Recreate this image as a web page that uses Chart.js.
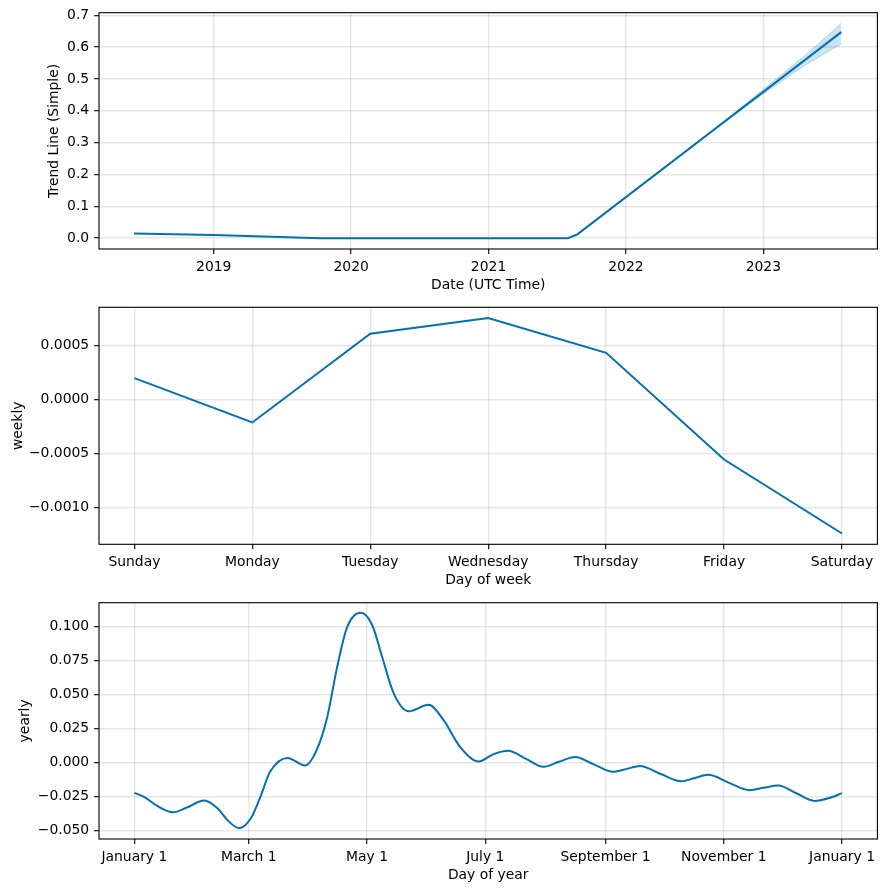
<!DOCTYPE html>
<html>
<head>
<meta charset="utf-8">
<script src="https://cdn.jsdelivr.net/npm/chart.js@4.4.0/dist/chart.umd.min.js"></script>
<style>
  html, body { margin: 0; padding: 0; background: #fff; }
  #page { position: relative; width: 886px; height: 892px; }
  .panel { position: absolute; left: 0; width: 886px; }
</style>
</head>
<body>
<div id="page">
  <div class="panel" style="top:0;height:300px"><canvas id="trend"></canvas></div>
  <div class="panel" style="top:300px;height:290px"><canvas id="weekly"></canvas></div>
  <div class="panel" style="top:590px;height:302px"><canvas id="yearly"></canvas></div>
</div>
<script>
// trend component
var trendDates = ['2018-06-03', '2019-01-01', '2019-10-12', '2021-07-31', '2021-08-25', '2023-07-27'];
var trendValues = [0.0147, 0.010, 0.0, 0.0, 0.012, 0.647];
var bandDates = ['2022-09-13', '2023-01-01', '2023-04-20', '2023-07-27'];
var bandUpper = [0.361, 0.468, 0.572, 0.675];
var bandLower = [0.359, 0.453, 0.542, 0.610];
var yearTicks = [2019, 2020, 2021, 2022, 2023];
var trendYTicks = [0, 0.1, 0.2, 0.3, 0.4, 0.5, 0.6, 0.7];

// weekly component
var dayNames = ['Sunday', 'Monday', 'Tuesday', 'Wednesday', 'Thursday', 'Friday', 'Saturday'];
var weeklyValues = [0.0002, -0.00021, 0.000611, 0.000756, 0.000435, -0.000553, -0.001238];
var weeklyYTicks = [-0.001, -0.0005, 0, 0.0005];

// yearly component
var monthTicks = [0, 59, 120, 181, 243, 304, 365];
var monthLabels = ['January 1', 'March 1', 'May 1', 'July 1', 'September 1', 'November 1', 'January 1'];
var yearlyDays = [0, 5, 12, 20, 27, 36, 43, 48, 54, 60, 65, 70, 79, 88, 94, 99.5, 104.6, 109.8, 116.7,
    122.7, 127.8, 133.8, 141.5, 151.8, 159.5, 168, 177.6, 185, 192.7, 202, 211, 219, 227.3, 237, 247,
    254, 260.8, 271.5, 282.2, 289, 296, 306.5, 317.4, 324.5, 332, 341.5, 350.8, 358, 365];
var yearlyValues = [-0.0224, -0.0253, -0.0322, -0.0367, -0.0332, -0.028, -0.0339, -0.0425, -0.0484,
    -0.0413, -0.0253, -0.0069, 0.0034, -0.0022, 0.0091, 0.0336, 0.0705, 0.0999, 0.1103,
    0.1012, 0.0778, 0.0508, 0.0378, 0.0425, 0.0312, 0.0115, 0.0007, 0.006, 0.0086, 0.0027, -0.0032,
    0.0005, 0.0041, -0.0014, -0.0069, -0.0047, -0.0025, -0.0085, -0.0138, -0.0115, -0.0091, -0.0148,
    -0.0204, -0.0187, -0.017, -0.0227, -0.0283, -0.0264, -0.0226];
var yearlyYTicks = [-0.05, -0.025, 0, 0.025, 0.05, 0.075, 0.1];

var BLUE = '#0072B2';
var FONT = 13.9;
Chart.defaults.font.family = "'DejaVu Sans', sans-serif";
Chart.defaults.font.size = FONT;
Chart.defaults.color = '#000';

function decYear(s) {
    var d = Date.parse(s + 'T00:00:00Z');
    var y = new Date(d).getUTCFullYear();
    var a = Date.UTC(y, 0, 1), b = Date.UTC(y + 1, 0, 1);
    return y + (d - a) / (b - a);
}

function fmt(v, digits) {
    return (v < 0 ? '\u2212' : '') + Math.abs(v).toFixed(digits);
}

function pts(xs, ys) {
    return xs.map(function (x, i) { return { x: x, y: ys[i] }; });
}

var frame = {
    id: 'frame',
    afterDatasetsDraw: function (chart) {
        var a = chart.chartArea, c = chart.ctx;
        c.save();
        c.strokeStyle = '#000';
        c.lineWidth = 1.1;
        c.strokeRect(a.left, a.top, a.right - a.left, a.bottom - a.top);
        c.restore();
    }
};

var gridOpts = { color: 'rgba(128,128,128,0.2)', lineWidth: 1.4, tickColor: '#000', tickLength: 4.9, tickWidth: 1.1 };

function renderPanel(canvasId, p) {
    return new Chart(document.getElementById(canvasId), {
        type: 'line',
        data: { datasets: p.datasets },
        plugins: [frame],
        options: {
            responsive: true, maintainAspectRatio: false, animation: false,
            layout: { padding: { left: 0, right: 8.6, top: p.padTop, bottom: p.padBottom } },
            plugins: { legend: { display: false }, tooltip: { enabled: false } },
            elements: { point: { radius: 0 } },
            scales: {
                x: {
                    type: 'linear', min: p.xMin, max: p.xMax,
                    border: { display: false },
                    grid: gridOpts,
                    ticks: { padding: 4.9, maxRotation: 0, autoSkip: false, callback: p.xFmt },
                    afterBuildTicks: function (s) { s.ticks = p.xTicks.map(function (v) { return { value: v }; }); },
                    afterFit: function (s) { s.height = 44.34; s.paddingLeft = 0; s.paddingRight = 0; },
                    title: { display: true, text: p.xTitle, padding: { top: 0, bottom: 0 } }
                },
                y: {
                    type: 'linear', min: p.yMin, max: p.yMax,
                    border: { display: false },
                    grid: gridOpts,
                    ticks: { padding: 4.9, callback: p.yFmt },
                    afterBuildTicks: function (s) { s.ticks = p.yTicks.map(function (v) { return { value: v }; }); },
                    afterFit: function (s) { s.width = 99; s.paddingTop = 0; s.paddingBottom = 0; },
                    title: { display: true, text: p.yTitle, padding: { top: p.yTitlePad, bottom: 0 } }
                }
            }
        }
    });
}

renderPanel('trend', {
    datasets: [
        { data: pts(trendDates.map(decYear), trendValues), borderColor: BLUE, borderWidth: 2, tension: 0, order: 0 },
        { data: pts(bandDates.map(decYear), bandUpper), borderColor: 'rgba(0,114,178,0.2)', borderWidth: 1, fill: false, order: 2 },
        { data: pts(bandDates.map(decYear), bandLower), borderColor: 'rgba(0,114,178,0.2)', borderWidth: 1,
          backgroundColor: 'rgba(0,114,178,0.2)', fill: '-1', order: 1 }
    ],
    xMin: 2018.165, xMax: 2023.83, xTicks: yearTicks,
    xFmt: function (v) { return String(v); },
    yMin: -0.034, yMax: 0.708, yTicks: trendYTicks,
    yFmt: function (v) { return fmt(v, 1); },
    xTitle: 'Date (UTC Time)', yTitle: 'Trend Line (Simple)', yTitlePad: 45.6,
    padTop: 12.7, padBottom: 300 - 249 - 44.34
});

renderPanel('weekly', {
    datasets: [
        { data: pts(dayNames.map(function (d, i) { return i; }), weeklyValues), borderColor: BLUE, borderWidth: 2, tension: 0 }
    ],
    xMin: -0.3, xMax: 6.3, xTicks: [0, 1, 2, 3, 4, 5, 6],
    xFmt: function (v) { return dayNames[v]; },
    yMin: -0.001338, yMax: 0.000856, yTicks: weeklyYTicks,
    yFmt: function (v) { return fmt(v, 4); },
    xTitle: 'Day of week', yTitle: 'weekly', yTitlePad: 9.7,
    padTop: 7.3, padBottom: 290 - 244.3 - 44.34
});

renderPanel('yearly', {
    datasets: [
        { data: pts(yearlyDays, yearlyValues), borderColor: BLUE, borderWidth: 2, cubicInterpolationMode: 'monotone' }
    ],
    xMin: -18.25, xMax: 383.25, xTicks: monthTicks,
    xFmt: function (v) { return monthLabels[monthTicks.indexOf(v)]; },
    yMin: -0.0564, yMax: 0.1178, yTicks: yearlyYTicks,
    yFmt: function (v) { return fmt(v, 3); },
    xTitle: 'Day of year', yTitle: 'yearly', yTitlePad: 16.7,
    padTop: 12.7, padBottom: 302 - 249 - 44.34
});
</script>
</body>
</html>
